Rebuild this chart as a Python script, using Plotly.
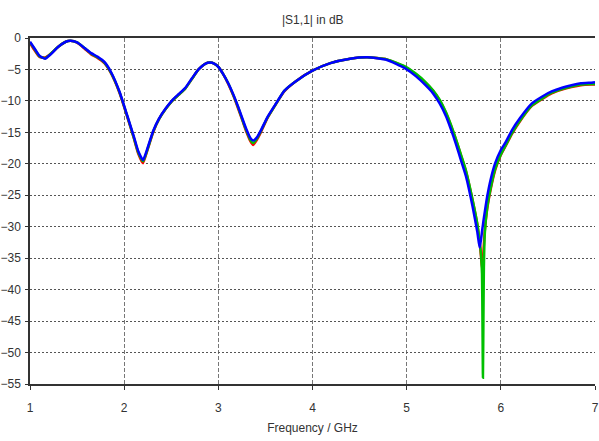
import plotly.graph_objects as go

# Frequency samples (GHz)
freq = [1.00, 1.05, 1.10, 1.16, 1.22, 1.30, 1.38, 1.43, 1.50, 1.58,
        1.65, 1.72, 1.79, 1.86, 1.95, 2.03, 2.10, 2.15, 2.20, 2.25,
        2.31, 2.37, 2.44, 2.51, 2.58, 2.65, 2.72, 2.79, 2.86, 2.91,
        2.96, 3.00, 3.05, 3.105, 3.16, 3.21, 3.26, 3.30, 3.34, 3.37,
        3.41, 3.455, 3.52, 3.60, 3.70, 3.82, 4.00, 4.19, 4.40, 4.58,
        4.79, 4.98, 5.10, 5.20, 5.28, 5.35, 5.42, 5.47, 5.52, 5.58,
        5.63, 5.70, 5.75, 5.775, 5.79, 5.80, 5.805, 5.81, 5.815, 5.82,
        5.83, 5.855, 5.89, 5.94, 6.00, 6.05, 6.12, 6.20, 6.33, 6.44,
        6.54, 6.65, 6.75, 6.85, 6.96, 7.00]

# |S1,1| in dB for the three simulated variants
s11_blue = [-0.6, -1.7, -2.8, -3.3, -2.6, -1.4, -0.6, -0.45, -0.7, -1.6,
            -2.4, -3.0, -3.8, -5.4, -8.5, -12.2, -15.5, -18.0, -19.4, -17.4,
            -14.7, -12.8, -11.2, -9.9, -8.9, -7.9, -6.4, -5.0, -4.1, -3.9,
            -4.1, -4.6, -5.7, -7.2, -9.0, -10.9, -13.0, -14.6, -15.9, -16.3,
            -15.8, -14.6, -12.6, -10.7, -8.4, -6.9, -5.2, -4.0, -3.3, -3.07,
            -3.5, -4.8, -6.1, -7.5, -8.8, -10.4, -12.5, -14.5, -16.7, -19.6,
            -22.0, -26.8, -30.8, -33.3, -32.0, -30.8, -30.2, -29.7, -29.1, -28.6,
            -27.6, -25.2, -22.6, -19.9, -17.8, -16.6, -14.6, -12.8, -10.4, -9.3,
            -8.5, -7.9, -7.5, -7.2, -7.1, -7.05]

s11_red = [-0.8, -2.0, -3.0, -3.1, -2.5, -1.4, -0.6, -0.45, -0.75, -1.7,
           -2.6, -3.2, -4.0, -5.6, -8.7, -12.4, -15.8, -18.4, -19.9, -17.7,
           -14.9, -12.9, -11.3, -10.0, -9.0, -8.0, -6.5, -5.0, -4.1, -3.9,
           -4.1, -4.6, -5.7, -7.3, -9.2, -11.2, -13.3, -15.0, -16.4, -17.0,
           -16.2, -14.9, -12.8, -10.8, -8.5, -6.9, -5.2, -4.0, -3.3, -3.07,
           -3.4, -4.6, -5.8, -7.1, -8.4, -9.9, -12.0, -13.9, -16.0, -18.8,
           -21.2, -25.8, -29.6, -32.5, -34.8, -36.6, -36.0, -35.2, -34.0, -32.8,
           -30.6, -27.2, -24.2, -21.0, -18.6, -17.2, -15.2, -13.3, -10.8, -9.7,
           -8.8, -8.2, -7.8, -7.5, -7.4, -7.4]

s11_green = [-0.7, -1.8, -2.9, -3.2, -2.5, -1.4, -0.6, -0.45, -0.7, -1.6,
             -2.5, -3.1, -3.9, -5.5, -8.6, -12.3, -15.7, -18.2, -19.6, -17.6,
             -14.8, -12.9, -11.3, -10.0, -9.0, -8.0, -6.5, -5.0, -4.1, -3.9,
             -4.1, -4.6, -5.7, -7.2, -9.1, -11.0, -13.2, -14.8, -16.2, -16.7,
             -16.0, -14.7, -12.7, -10.8, -8.4, -6.9, -5.2, -4.0, -3.3, -3.07,
             -3.4, -4.5, -5.7, -7.0, -8.3, -9.8, -11.9, -13.8, -15.9, -18.7,
             -21.1, -25.7, -29.5, -32.3, -34.5, -37.5, -45.0, -54.0, -45.0, -36.5,
             -31.0, -27.0, -24.0, -20.8, -18.5, -17.1, -15.1, -13.2, -10.7, -9.6,
             -8.7, -8.1, -7.7, -7.4, -7.3, -7.3]

series = [
    ("red", s11_red, "#ff0000"),
    ("green", s11_green, "#00c000"),
    ("blue", s11_blue, "#0000ff"),
]

fig = go.Figure()
for name, vals, col in series:
    fig.add_trace(go.Scatter(
        x=freq, y=vals, mode="lines", name=name,
        line=dict(color=col, width=2.5, shape="spline", smoothing=0.5),
        showlegend=False,
    ))

font = dict(family="Liberation Sans, DejaVu Sans, sans-serif", size=12, color="#333333")

fig.update_layout(
    width=599, height=441,
    margin=dict(l=30, r=0, t=38, b=57),
    paper_bgcolor="white", plot_bgcolor="white",
    font=font,
)

fig.update_xaxes(
    range=[1, 7], tickmode="array", tickvals=[1, 2, 3, 4, 5, 6, 7],
    showgrid=True, gridcolor="#777777", gridwidth=1, griddash="4px,2px",
    showline=True, linecolor="#333333", linewidth=1.5, mirror=True,
    ticks="outside", ticklen=4, tickcolor="#333333",
    ticklabeloverflow="allow", ticklabelstandoff=8,
    zeroline=False,
    title=dict(text="Frequency / GHz", font=font, standoff=9),
)
fig.update_yaxes(
    range=[-55, 0], tickmode="array", tickvals=list(range(-55, 1, 5)),
    showgrid=True, gridcolor="#555555", gridwidth=1, griddash="2px,2px",
    showline=True, linecolor="#333333", linewidth=1.5,
    ticks="outside", ticklen=3, tickcolor="#333333",
    ticklabelstandoff=2,
    zeroline=False,
)

fig.add_annotation(
    text="|S1,1| in dB", xref="paper", yref="paper",
    x=0.5, y=1, yshift=27, showarrow=False, font=font,
)

fig.write_html("out.html")
